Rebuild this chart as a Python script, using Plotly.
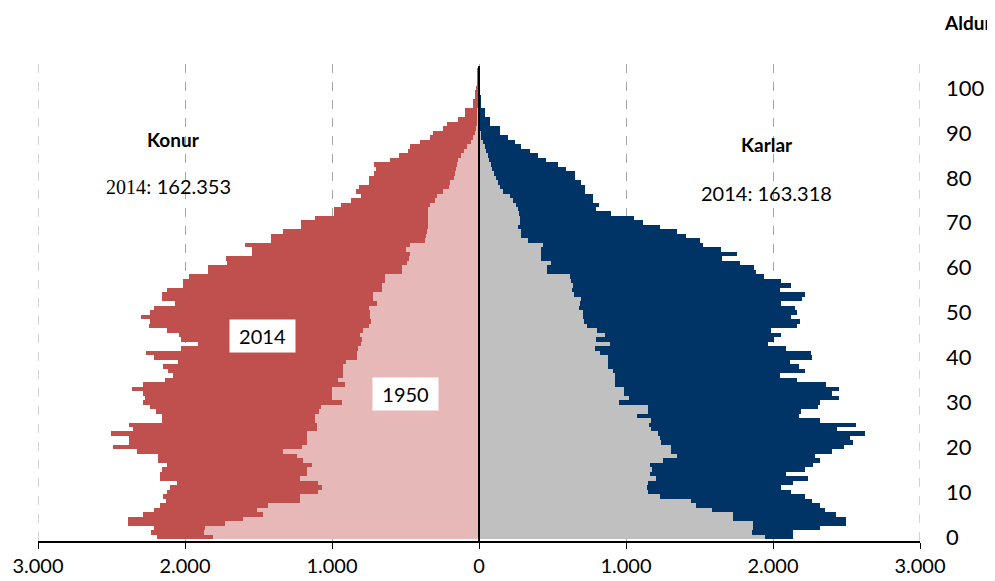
import plotly.graph_objects as go

# Aldur 0..104 (efstu árin eru örfá)
aldur = list(range(105))

konur_2014 = [2193, 2231, 2210, 2385, 2385, 2288, 2208, 2170, 2129, 2147,
              2124, 2102, 2057, 2170, 2170, 2159, 2124, 2181, 2181, 2324,
              2488, 2381, 2381, 2503, 2352, 2381, 2159, 2159, 2200, 2238,
              2288, 2272, 2286, 2363, 2288, 2136, 2079, 2113, 2147, 2045,
              2208, 2265, 2029, 1914, 2029, 2039, 2124, 2245, 2238, 2302,
              2238, 2208, 2068, 2159, 2159, 2124, 2016, 2016, 1970, 1841,
              1841, 1712, 1723, 1547, 1547, 1592, 1417, 1417, 1331, 1210,
              1210, 1113, 984, 984, 939, 871, 805, 835, 816, 748,
              748, 714, 698, 714, 608, 544, 483, 472, 399, 336,
              313, 243, 220, 145, 95, 95, 43, 43, 30, 25,
              20, 15, 12, 10, 8]

konur_1950 = [1807, 1869, 1864, 1728, 1603, 1467, 1512, 1433, 1218, 1218,
              1093, 1066, 1093, 1218, 1172, 1172, 1138, 1195, 1240, 1336,
              1206, 1172, 1172, 1172, 1104, 1104, 1116, 1116, 1090, 1077,
              934, 1002, 1002, 1002, 912, 957, 923, 923, 923, 905,
              832, 832, 821, 805, 798, 810, 790, 746, 735, 741,
              741, 750, 696, 719, 719, 662, 662, 639, 639, 526,
              526, 492, 475, 469, 496, 469, 367, 360, 356, 350,
              350, 344, 344, 344, 333, 300, 288, 243, 205, 197,
              170, 163, 155, 152, 140, 120, 100, 82, 55, 39,
              25, 20, 15, 12, 10, 8, 6, 5, 4, 3,
              2, 0, 0, 0, 0]

karlar_2014 = [2136, 2136, 2317, 2499, 2499, 2431, 2351, 2317, 2268, 2220,
               2125, 2057, 2136, 2236, 2091, 2220, 2272, 2317, 2288, 2401,
               2481, 2542, 2526, 2624, 2435, 2567, 2317, 2175, 2193, 2304,
               2322, 2447, 2401, 2447, 2363, 2163, 2045, 2220, 2175, 2113,
               2268, 2256, 2091, 1966, 2007, 2052, 1989, 2163, 2186, 2125,
               2163, 2147, 2052, 2197, 2220, 2045, 2125, 2052, 1939, 1887,
               1868, 1773, 1655, 1757, 1644, 1524, 1501, 1410, 1349, 1229,
               1116, 1054, 900, 798, 814, 776, 776, 719, 719, 696,
               651, 651, 594, 537, 458, 401, 345, 288, 243, 197,
               141, 141, 73, 73, 39, 39, 16, 16, 16, 0,
               0, 0, 0, 0, 0]

karlar_1950 = [1948, 1857, 1864, 1864, 1728, 1728, 1585, 1478, 1440, 1229,
               1150, 1143, 1150, 1206, 1166, 1177, 1161, 1252, 1349, 1304,
               1304, 1240, 1229, 1218, 1168, 1154, 1168, 1077, 1150, 1150,
               950, 1018, 986, 986, 923, 923, 923, 912, 878, 878,
               878, 821, 787, 889, 798, 855, 805, 737, 714, 707,
               707, 680, 685, 692, 646, 635, 639, 628, 617, 465,
               465, 488, 424, 424, 420, 435, 333, 288, 288, 265,
               277, 277, 270, 262, 250, 231, 209, 163, 141, 128,
               115, 102, 90, 79, 70, 61, 50, 39, 28, 16,
               10, 5, 0, 0, 0, 0, 0, 0, 0, 0,
               0, 0, 0, 0, 0]

x_ticks = [-3000, -2000, -1000, 0, 1000, 2000, 3000]
x_ticktext = ["3.000", "2.000", "1.000", "0", "1.000", "2.000", "3.000"]
y_ticks = list(range(0, 101, 10))

FONT = "Lato, 'Open Sans', sans-serif"

fig = go.Figure()

# 2014 fyrst (ytri), 1950 ofan á (innri)
fig.add_trace(go.Bar(y=aldur, x=[-v for v in konur_2014], orientation="h",
                     marker=dict(color="#C0504D", line=dict(width=0)), width=1, name="Konur 2014"))
fig.add_trace(go.Bar(y=aldur, x=karlar_2014, orientation="h",
                     marker=dict(color="#003366", line=dict(width=0)), width=1, name="Karlar 2014"))
fig.add_trace(go.Bar(y=aldur, x=[-v for v in konur_1950], orientation="h",
                     marker=dict(color="#E6B9B8", line=dict(width=0)), width=1, name="Konur 1950"))
fig.add_trace(go.Bar(y=aldur, x=karlar_1950, orientation="h",
                     marker=dict(color="#C0C0C0", line=dict(width=0)), width=1, name="Karlar 1950"))

# strikalínur á jöðrunum (plotly teiknar ekki grid á brún)
for xv in (-3000, 3000):
    fig.add_shape(type="line", x0=xv, x1=xv, y0=0, y1=1, xref="x", yref="paper",
                  line=dict(color="#A6A6A6", width=1, dash="dash"), layer="below")

# miðlína
fig.add_shape(type="line", x0=0, x1=0, y0=-0.89, y1=104.9, xref="x", yref="y",
              line=dict(color="black", width=2))

# síðan hefur 8px spássíu í body, því er myndin færð um 8px
fig.update_layout(
    width=987, height=573,
    margin=dict(l=30, r=75, t=56, b=40),
    barmode="overlay", bargap=0,
    showlegend=False,
    plot_bgcolor="white", paper_bgcolor="white",
    font=dict(family=FONT, color="black"),
    xaxis=dict(range=[-3000, 3000], tickvals=x_ticks, ticktext=x_ticktext,
               showgrid=True, gridcolor="#A6A6A6", griddash="dash", gridwidth=1,
               zeroline=False, showline=True, linecolor="black", linewidth=1.5,
               ticks="outside", ticklen=6, tickcolor="black", automargin=False,
               tickfont=dict(size=20, family=FONT)),
    yaxis=dict(range=[-0.89, 105.35], side="right", tickvals=y_ticks,
               showgrid=False, zeroline=False, showline=False, ticks="",
               automargin=False, ticklabelstandoff=25,
               tickfont=dict(size=22, family=FONT)),
)

annots = [
    dict(x=1.054, y=1.088, text="<b>Aldur</b>", size=19),
    dict(x=0.1531, y=0.8407, text="<b>Konur</b>", size=19),
    dict(x=0.1485, y=0.7442,
         text="<span style='font-family:Liberation Serif'>2014:</span> 162.353", size=20),
    dict(x=0.8265, y=0.8302, text="<b>Karlar</b>", size=19),
    dict(x=0.8254, y=0.7296, text="2014: 163.318", size=20),
]
for a in annots:
    fig.add_annotation(x=a["x"], y=a["y"], xref="paper", yref="paper", text=a["text"],
                       xanchor="center", yanchor="middle", showarrow=False,
                       font=dict(size=a["size"], family=FONT, color="black"))

# merkimiðar í hvítum kassa
for txt, xp, yp in [("2014", 0.254, 0.4298), ("1950", 0.4172, 0.3082)]:
    fig.add_annotation(x=xp, y=yp, xref="paper", yref="paper", text=txt, showarrow=False,
                       xanchor="center", yanchor="middle",
                       bgcolor="white", borderpad=4, width=57, height=24,
                       font=dict(size=20, family=FONT, color="black"))

fig.write_html("out.html")
